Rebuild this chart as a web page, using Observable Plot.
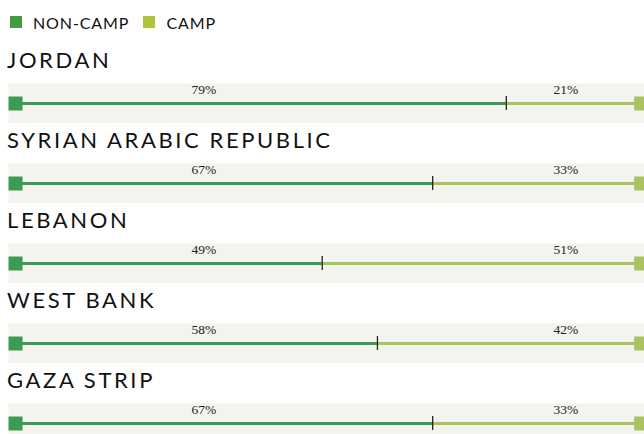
<!DOCTYPE html>
<html>
<head>
<meta charset="utf-8">
<script src="https://cdn.jsdelivr.net/npm/d3@7"></script>
<script src="https://cdn.jsdelivr.net/npm/@observablehq/plot@0.6"></script>
<style>
html, body { margin: 0; padding: 0; overflow: hidden; background: #fff; }
#wrap { width: 644px; }
.legend { height: 43px; display: flex; align-items: center; font-family: Lato, sans-serif; font-size: 16px; letter-spacing: 0.9px; color: #111; padding-left: 10px; box-sizing: border-box; padding-top: 1px; }
.legend .sw { width: 12px; height: 12px; display: inline-block; margin-right: 11px; }
.legend .item { display: flex; align-items: center; margin-right: 14px; }
.title { height: 40px; line-height: 33px; font-family: Lato, sans-serif; font-size: 22px; letter-spacing: 2.6px; color: #111; padding-left: 7px; box-sizing: border-box; }
svg { display: block; }
</style>
</head>
<body>
<div id="wrap"></div>
<script>
const countries = ["JORDAN", "SYRIAN ARABIC REPUBLIC", "LEBANON", "WEST BANK", "GAZA STRIP"];
const nonCamp = [79, 67, 49, 58, 67];
const camp = [21, 33, 51, 42, 33];
const seriesNames = ["NON-CAMP", "CAMP"];
const legendColors = ["#409a3f", "#aec23a"];
const lineColors = ["#3a9c52", "#a8c45e"];
const bandColor = "#f2f4ed";
const labelPos = [29.7, 88.7];

const wrap = document.getElementById("wrap");

const legend = document.createElement("div");
legend.className = "legend";
seriesNames.forEach((name, i) => {
  const item = document.createElement("span");
  item.className = "item";
  const sw = document.createElement("span");
  sw.className = "sw";
  sw.style.background = legendColors[i];
  item.appendChild(sw);
  item.appendChild(document.createTextNode(name));
  legend.appendChild(item);
});
wrap.appendChild(legend);

countries.forEach((country, i) => {
  const t = document.createElement("div");
  t.className = "title";
  t.textContent = country;
  wrap.appendChild(t);

  const row = {country, nonCamp: nonCamp[i], camp: camp[i]};
  const labels = [
    {x: labelPos[0], text: `${row.nonCamp}%`},
    {x: labelPos[1], text: `${row.camp}%`}
  ];
  const chart = Plot.plot({
    width: 644,
    height: 40,
    marginLeft: 8,
    marginRight: 0,
    marginTop: 0,
    marginBottom: 0,
    x: {domain: [0, 100], range: [21, 634.7], axis: null},
    y: {domain: [0, 1], range: [40, 0], axis: null},
    marks: [
      Plot.frame({fill: bandColor, stroke: null}),
      Plot.ruleY([row], {y: 0.5, x1: 0, x2: d => d.nonCamp, stroke: lineColors[0], strokeWidth: 3}),
      Plot.ruleY([row], {y: 0.5, x1: d => d.nonCamp, x2: 100, stroke: lineColors[1], strokeWidth: 3}),
      Plot.dot([row], {x: 0, y: 0.5, dx: -6, symbol: "square", r: 7.9, fill: lineColors[0], stroke: null}),
      Plot.dot([row], {x: 100, y: 0.5, dx: 6, symbol: "square", r: 7.9, fill: lineColors[1], stroke: null}),
      Plot.ruleX([row], {x: d => d.nonCamp, insetTop: 13, insetBottom: 13, stroke: "#222", strokeWidth: 1.3}),
      Plot.text(labels, {x: "x", text: "text", frameAnchor: "top", dy: 1, fontFamily: "'Liberation Serif', 'DejaVu Serif', serif", fontSize: 13.5, fill: "#222"})
    ]
  });
  wrap.appendChild(chart);
});
</script>
</body>
</html>
